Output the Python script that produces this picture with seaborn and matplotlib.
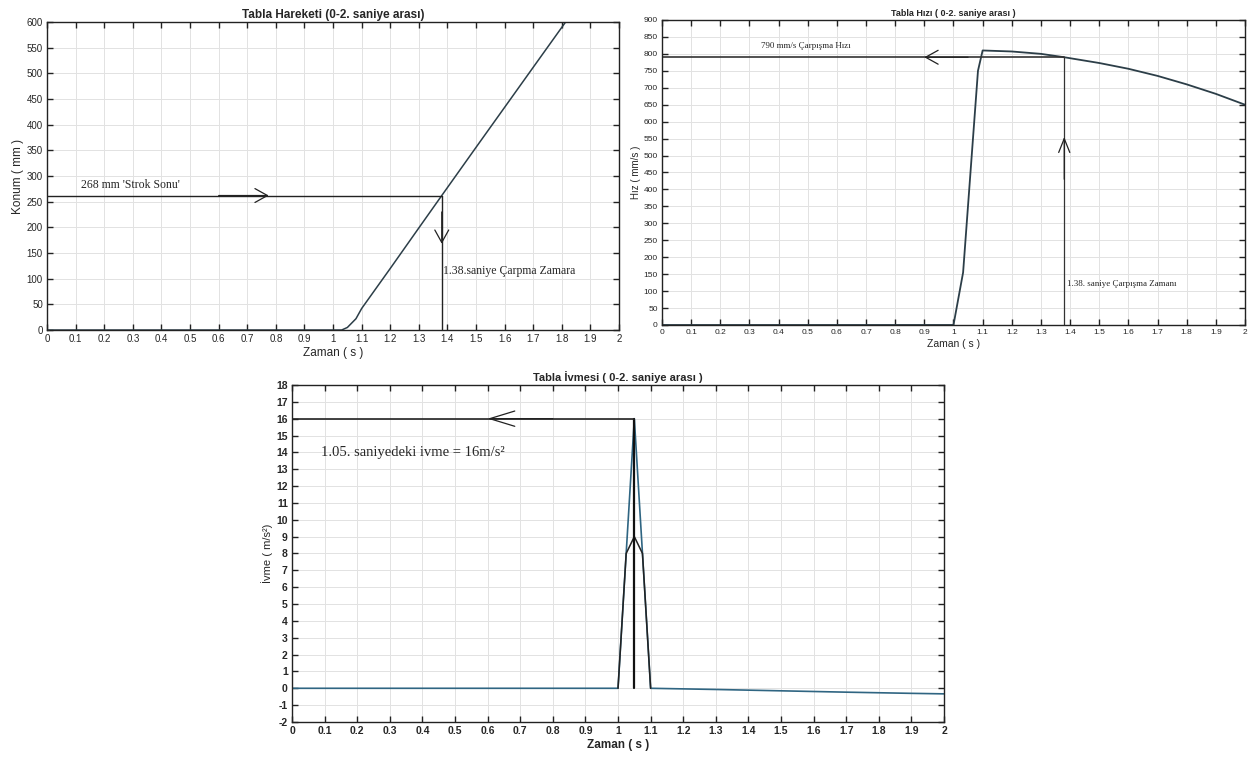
import numpy as np
import pandas as pd
import matplotlib
matplotlib.use("Agg")
import matplotlib.pyplot as plt
import seaborn as sns

# --- data ---
t_konum = [0.0, 0.5, 1.0, 1.03, 1.05, 1.08, 1.1, 1.2, 1.3, 1.38, 1.5, 1.6, 1.7, 1.813]
konum = [0, 0, 0, 0, 5, 22, 42, 120, 199, 262, 356, 434, 512, 600]

t_hiz = [0.0, 0.5, 1.0, 1.033, 1.084, 1.1, 1.2, 1.3, 1.38, 1.5, 1.6, 1.7, 1.8, 1.9, 2.0]
hiz = [0, 0, 0, 155, 750, 810, 807, 800, 790, 773, 756, 735, 710, 682, 650]

t_ivme = [0.0, 0.5, 1.0, 1.05, 1.1, 1.3, 1.5, 1.7, 1.9, 2.0]
ivme = [0, 0, 0, 16, 0, -0.07, -0.15, -0.23, -0.3, -0.33]
t_ivme2 = [1.0, 1.025, 1.05, 1.075, 1.1]
ivme2 = [0, 8, 9, 8, 0]

carpma_t = 1.38
strok = 262
carpma_hiz = 790
tepe_t = 1.05
tepe_ivme = 16

x_ticks = np.round(np.arange(0, 2.01, 0.1), 1)
x_labels = ["0", "0.1", "0.2", "0.3", "0.4", "0.5", "0.6", "0.7", "0.8", "0.9", "1",
            "1.1", "1.2", "1.3", "1.4", "1.5", "1.6", "1.7", "1.8", "1.9", "2"]

sns.set_style("whitegrid", {"grid.color": "#e2e2e2", "axes.edgecolor": "#222222"})
plt.rcParams['font.family'] = ['Liberation Sans', 'DejaVu Sans']
plt.rcParams['xtick.direction'] = 'in'
plt.rcParams['ytick.direction'] = 'in'

fig = plt.figure(figsize=(12.55, 7.62), dpi=100)
ax1 = fig.add_axes([0.0375, 0.5669, 0.4558, 0.4042])
ax2 = fig.add_axes([0.5275, 0.5735, 0.4645, 0.4003])
ax3 = fig.add_axes([0.2327, 0.0525, 0.5195, 0.4423])

curve_col = "#2c3e48"
serif = ['Liberation Serif', 'DejaVu Serif']


def style(ax, yticks, fs, bold=False):
    ax.set_xlim(0, 2)
    ax.set_xticks(x_ticks)
    ax.set_xticklabels(x_labels, fontsize=fs, fontweight='bold' if bold else 'normal')
    ax.set_yticks(yticks)
    ax.set_yticklabels([str(v) for v in yticks], fontsize=fs,
                       fontweight='bold' if bold else 'normal')
    ax.set_ylim(yticks[0], yticks[-1])
    ax.tick_params(axis='both', which='both', direction='in', length=4, width=1,
                   top=True, right=True, bottom=True, left=True, pad=3, color='#222222')
    ax.grid(True, color='#e2e2e2', linewidth=0.7)
    for s in ax.spines.values():
        s.set_linewidth(1.0)
        s.set_color('#222222')


def chevron(ax, tip, tail, hl=0.9, hw=0.5, lw=0.9):
    ax.annotate('', xy=tip, xytext=tail,
                arrowprops=dict(arrowstyle='->,head_length=%s,head_width=%s' % (hl, hw),
                                lw=lw, color='#222222', shrinkA=0, shrinkB=0))


# --- Konum ---
df1 = pd.DataFrame({'t': t_konum, 'konum': konum})
sns.lineplot(data=df1, x='t', y='konum', ax=ax1, color=curve_col, linewidth=1.1,
             estimator=None, sort=False)
style(ax1, list(range(0, 601, 50)), 7)
ax1.plot([0, carpma_t], [strok, strok], color='#222222', lw=1.0)
ax1.plot([carpma_t, carpma_t], [strok, 0], color='#222222', lw=1.0)
chevron(ax1, (0.775, strok), (0.6, strok))
chevron(ax1, (carpma_t, 168), (carpma_t, 230))
ax1.text(0.12, 270, "268 mm 'Strok Sonu'", family=serif, fontsize=8.5, va='bottom')
ax1.text(carpma_t + 0.005, 115, "1.38.saniye Çarpma Zamara", family=serif, fontsize=8.5,
         va='center')
ax1.set_title("Tabla Hareketi (0-2. saniye arası)", fontsize=8.5, fontweight='bold', pad=3)
ax1.set_xlabel("Zaman ( s )", fontsize=8.5, labelpad=2)
ax1.set_ylabel("Konum ( mm )", fontsize=8.5, labelpad=2)

# --- Hiz ---
df2 = pd.DataFrame({'t': t_hiz, 'hiz': hiz})
sns.lineplot(data=df2, x='t', y='hiz', ax=ax2, color=curve_col, linewidth=1.3,
             estimator=None, sort=False)
style(ax2, list(range(0, 901, 50)), 6)
ax2.plot([0, carpma_t], [carpma_hiz, carpma_hiz], color='#333333', lw=1.2)
ax2.plot([carpma_t, carpma_t], [carpma_hiz, 0], color='#333333', lw=0.9)
chevron(ax2, (0.9, carpma_hiz), (1.05, carpma_hiz))
chevron(ax2, (carpma_t, 555), (carpma_t, 430), hl=1.0, hw=0.4)
ax2.text(0.34, 822, "790 mm/s Çarpışma Hızı", family=serif, fontsize=6.5, va='center')
ax2.text(carpma_t + 0.01, 122, "1.38. saniye Çarpışma Zamanı", family=serif, fontsize=6.5,
         va='center')
ax2.set_title("Tabla Hızı ( 0-2. saniye arası )", fontsize=6.5, fontweight='bold', pad=3)
ax2.set_xlabel("Zaman ( s )", fontsize=7.5, labelpad=2)
ax2.set_ylabel("Hız ( mm/s )", fontsize=7, labelpad=2)

# --- Ivme ---
df3 = pd.DataFrame({'t': t_ivme, 'ivme': ivme})
df3b = pd.DataFrame({'t': t_ivme2, 'ivme': ivme2})
sns.lineplot(data=df3, x='t', y='ivme', ax=ax3, color="#2f6582", linewidth=1.2,
             estimator=None, sort=False)
sns.lineplot(data=df3b, x='t', y='ivme', ax=ax3, color="#222222", linewidth=1.1,
             estimator=None, sort=False)
ax3.plot([tepe_t, tepe_t], [0, tepe_ivme], color='#111111', lw=1.6)
ax3.plot([0, tepe_t], [tepe_ivme, tepe_ivme], color='#222222', lw=1.2)
style(ax3, list(range(-2, 19)), 7.5, bold=True)
chevron(ax3, (0.6, tepe_ivme), (0.8, tepe_ivme), hl=1.8, hw=0.55)
ax3.text(0.09, 14.0, "1.05. saniyedeki ivme = 16m/s²", family=serif, fontsize=10.5,
         va='center')
ax3.set_title("Tabla İvmesi ( 0-2. saniye arası )", fontsize=8, fontweight='bold', pad=3)
ax3.set_xlabel("Zaman ( s )", fontsize=8.5, fontweight='bold', labelpad=2)
ax3.set_ylabel("İvme ( m/s²)", fontsize=8, labelpad=2)

fig.savefig("out.png", dpi=100)
